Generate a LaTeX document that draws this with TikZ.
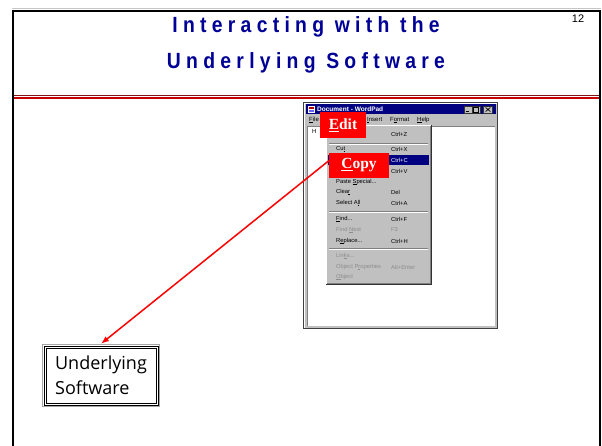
\documentclass[tikz,border=0pt]{standalone}
\usepackage{fontspec}
\setmainfont{Liberation Sans}
\newfontfamily\titlefont[FakeStretch=0.88,LetterSpace=24]{Liberation Sans}
\newfontfamily\uifont{Liberation Sans}
\newfontfamily\calloutfont{Liberation Serif}
\newfontfamily\boxfont{Open Sans}
\usetikzlibrary{arrows.meta}

\definecolor{titleblue}{RGB}{0,0,150}
\definecolor{winnavy}{RGB}{0,0,128}
\definecolor{silver}{RGB}{192,192,192}
\definecolor{ruledark}{RGB}{128,20,20}
\definecolor{rulered}{RGB}{200,0,0}
\definecolor{calloutred}{RGB}{255,0,0}

\tikzset{
  slidetitle/.style={anchor=base, inner sep=0, text=titleblue,
    font=\titlefont\bfseries\fontsize{22}{26}\selectfont},
  menuitem/.style={anchor=west, inner sep=0, font=\uifont\fontsize{5.8}{6}\selectfont},
  greyitem/.style={menuitem, text=black!45},
  hiitem/.style={menuitem, text=white},
  barlabel/.style={anchor=west, inner sep=0, font=\uifont\fontsize{6}{6.5}\selectfont},
  callout/.style={fill=calloutred, text=white, inner sep=0,
    font=\calloutfont\bfseries\fontsize{15.5}{16}\selectfont},
  winbutton/.style={fill=silver, draw=black!80, line width=0.4pt},
  softbox/.style={fill=white, minimum width=118pt, minimum height=63pt,
    inner sep=0, align=left, font=\boxfont\fontsize{18}{25}\selectfont},
  pointer/.style={draw=red, line width=1.5pt, -{Latex[length=8pt,width=6pt]}}
}

\begin{document}
\begin{tikzpicture}[x=1pt,y=-1pt]
\useasboundingbox (0,0) rectangle (602,446);
\fill[white] (0,0) rectangle (602,446);

% slide frame
\draw[gray!45, line width=0.8pt] (12,8.3) -- (601,8.3);
\draw[line width=2pt] (12.5,446) -- (12.5,11) -- (600,11) -- (600,446);

% double rule under the title
\draw[ruledark, line width=1pt] (13.5,95.5) -- (599,95.5);
\draw[rulered, line width=2pt] (13.5,98.3) -- (599,98.3);

% title and page number
\node[slidetitle] (title1) at (306,33) {Interacting with the};
\node[slidetitle] (title2) at (306,69) {Underlying Software};
\node[anchor=base, inner sep=0, font=\uifont\fontsize{11}{12}\selectfont] (pageno) at (578,23) {12};

% ---- WordPad window ----
\fill[silver] (303,102) rectangle (498,329);
\draw[black!75, line width=0.8pt] (303.4,102.4) rectangle (497.6,328.6);
\draw[white, line width=0.6pt] (304.5,328) -- (304.5,103.5) -- (497,103.5);
% title bar
\fill[winnavy] (306,104.5) rectangle (495.5,114.5);
\fill[white] (308,106) rectangle (315,113);
\fill[red!70!black] (309,107) rectangle (314,109.5);
\fill[blue!60] (309,110) rectangle (314,112);
\node[anchor=west, inner sep=0, text=white, font=\uifont\bfseries\fontsize{6.5}{7}\selectfont] (wtitle) at (317,109.5) {Document - WordPad};
\node[winbutton, minimum width=8pt, minimum height=7pt, inner sep=0] (bmin) at (468,109.5) {};
\node[winbutton, minimum width=8pt, minimum height=7pt, inner sep=0] (bmax) at (476,109.5) {};
\node[winbutton, minimum width=9pt, minimum height=7pt, inner sep=0] (bclose) at (488,109.5) {};
\draw[line width=0.8pt] ([xshift=-2.5pt,yshift=1.5pt]bmin.south) -- ([xshift=1pt,yshift=1.5pt]bmin.south);
\draw[line width=0.4pt] ([xshift=-2.5pt,yshift=1.3pt]bmax.south) rectangle ([xshift=2.5pt,yshift=-1.3pt]bmax.north);
\draw[line width=0.7pt] ([xshift=-2.3pt,yshift=-2pt]bclose.center) -- ([xshift=2.3pt,yshift=2pt]bclose.center)
                        ([xshift=-2.3pt,yshift=2pt]bclose.center) -- ([xshift=2.3pt,yshift=-2pt]bclose.center);

% menu bar
\node[barlabel] (mfile) at (309,120) {\underline{F}ile};
\node[barlabel] (minsert) at (367,120) {\underline{I}nsert};
\node[barlabel] (mformat) at (390,120) {F\underline{o}rmat};
\node[barlabel] (mhelp) at (417,120) {\underline{H}elp};

% document area
\fill[white] (307,126.5) rectangle (495,326);
\draw[gray, line width=0.6pt] (307,326) -- (307,126.5) -- (495,126.5);
\node[anchor=west, inner sep=0, font=\uifont\fontsize{6}{6.5}\selectfont] (doctext) at (312,131) {H};

% Edit drop-down menu
\fill[silver] (326,125) rectangle (431,284);
\draw[white, line width=0.6pt] (326.5,284) -- (326.5,125.5) -- (431,125.5);
\draw[gray, line width=0.6pt] (430,126) -- (430,283) -- (327,283);
\draw[black!80, line width=0.6pt] (431,125) -- (431,284) -- (326,284);
\foreach \sy in {143,211,248}{
  \draw[gray, line width=0.5pt] (329,\sy) -- (428,\sy);
  \draw[white, line width=0.5pt] (329,\sy+0.8) -- (428,\sy+0.8);
}
\fill[winnavy] (328,155) rectangle (429,165.5);

\node[menuitem] (icut) at (336,149) {Cu\underline{t}};
\node[menuitem] (ipspec) at (336,182) {Paste \underline{S}pecial...};
\node[menuitem] (iclear) at (336,192) {Clea\underline{r}};
\node[menuitem] (iselall) at (336,203) {Select A\underline{l}l};
\node[menuitem] (ifind) at (336,219) {\underline{F}ind...};
\node[greyitem] (ifindnext) at (336,230) {Find \underline{N}ext};
\node[menuitem] (ireplace) at (336,241) {R\underline{e}place...};
\node[greyitem] (ilinks) at (336,256) {Lin\underline{k}s...};
\node[greyitem] (iobjprop) at (336,267) {Object P\underline{r}operties};
\node[greyitem] (iobject) at (336,277) {\underline{O}bject};

\node[menuitem] (kundo) at (391,134) {Ctrl+Z};
\node[menuitem] (kcut) at (391,149) {Ctrl+X};
\node[hiitem] (kcopy) at (391,160) {Ctrl+C};
\node[menuitem] (kpaste) at (391,171) {Ctrl+V};
\node[menuitem] (kdel) at (391,192) {Del};
\node[menuitem] (kselall) at (391,203) {Ctrl+A};
\node[menuitem] (kfind) at (391,219) {Ctrl+F};
\node[greyitem] (kfindnext) at (391,230) {F3};
\node[menuitem] (kreplace) at (391,241) {Ctrl+H};
\node[greyitem] (kobjprop) at (391,267) {Alt+Enter};

% red callouts
\node[callout, minimum width=46pt, minimum height=26pt] (edit) at (343,125) {\underline{E}dit};
\node[callout, minimum width=60pt, minimum height=25pt] (copy) at (359,165.5) {\underline{C}opy};

% underlying software box with its framed double border
\node[softbox] (soft) at (101,375.5) {Underlying\\Software};
\draw[gray!70, line width=1.6pt] ([shift={(0.8pt,-0.8pt)}]soft.north west) rectangle ([shift={(-0.8pt,0.8pt)}]soft.south east);
\draw[black, line width=0.7pt] ([shift={(2.2pt,-2.2pt)}]soft.north west) rectangle ([shift={(-2.2pt,2.2pt)}]soft.south east);
\draw[black, line width=0.7pt] ([shift={(4.3pt,-4.3pt)}]soft.north west) rectangle ([shift={(-4.3pt,4.3pt)}]soft.south east);

% pointer from the Copy command to the software
\draw[pointer] (copy.171) -- (soft.north);
\end{tikzpicture}
\end{document}
